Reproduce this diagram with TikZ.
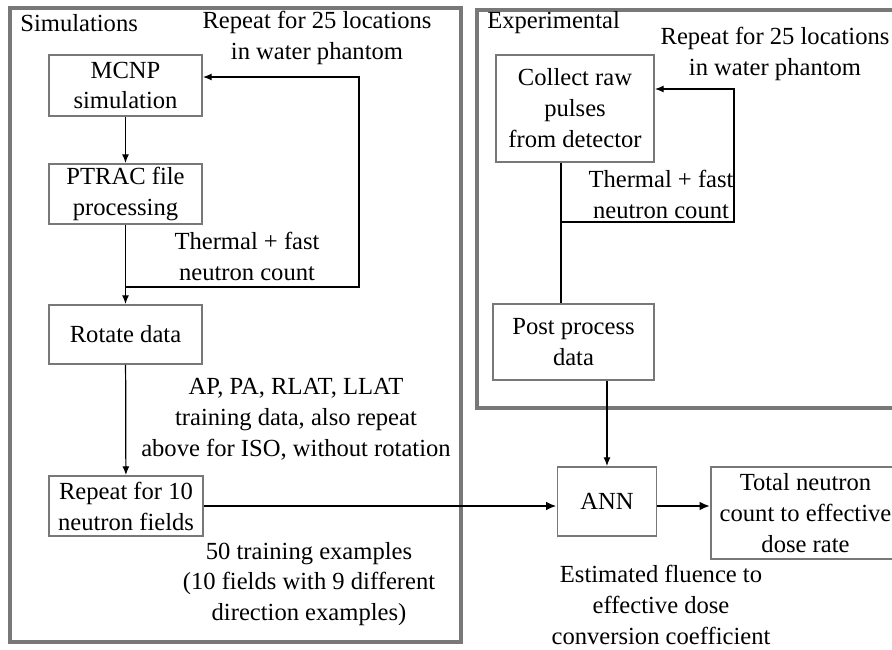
\documentclass[tikz,border=0pt]{standalone}
\usepackage{fontspec}
\setmainfont{Liberation Serif}
\usepackage{tikz}
\usetikzlibrary{arrows.meta}
\definecolor{framegray}{RGB}{120,120,120}

\begin{document}
\begin{tikzpicture}[
          x=0.02cm, y=-0.02cm,
          font=\fontsize{14}{17.6}\selectfont,
          box/.style={draw=framegray, line width=1.1pt, inner sep=0pt, align=center},
          frame/.style={draw=framegray, line width=2.2pt},
          lbl/.style={inner sep=0pt, align=center},
          arr/.style={-{Latex[length=5pt,width=4pt]}, line width=0.7pt},
          bigarr/.style={-{Latex[length=6pt,width=5pt]}, line width=1.2pt},
        ]
          \useasboundingbox (0,0) rectangle (892,649);
          % frames
          \draw[frame] (10,8) rectangle (461,642);
          \draw[frame] (477,10) rectangle (910,408);
          \node[lbl, anchor=west] (simtitle) at (20,23) {Simulations};
          \node[lbl, anchor=west] (exptitle) at (487,23) {Experimental};
          % simulation side
          \node[box, minimum width=3.06cm, minimum height=1.22cm] (mcnp) at (125.5,85.5) {MCNP\\simulation};
          \node[box, minimum width=3.06cm, minimum height=1.2cm] (ptrac) at (125.5,194) {PTRAC file\\processing};
          \node[box, minimum width=3.06cm, minimum height=1.18cm] (rotate) at (125.5,334.5) {Rotate data};
          \node[box, minimum width=3.08cm, minimum height=1.2cm] (repeat) at (126,506) {Repeat for 10\\neutron fields};
          \node[lbl] (simrep) at (317,38) {Repeat for 25 locations\\in water phantom};
          \node[lbl] (simcount) at (247,256.5) {Thermal + fast\\neutron count};
          \node[lbl] (augtext) at (296,419) {AP, PA, RLAT, LLAT\\training data, also repeat\\above for ISO, without rotation};
          \node[lbl] (trainex) at (309,584) {50 training examples\\(10 fields with 9 different\\direction examples)};
          % experimental side
          \node[box, minimum width=3.16cm, minimum height=2.14cm] (collect) at (575,108.5) {Collect raw\\pulses\\from detector};
          \node[box, minimum width=3.22cm, minimum height=1.52cm] (post) at (573.5,342) {Post process\\data};
          \node[lbl] (exprep) at (775,54) {Repeat for 25 locations\\in water phantom};
          \node[lbl] (expcount) at (661,194.5) {Thermal + fast\\neutron count};
          % network
          \node[box, minimum width=1.98cm, minimum height=1.38cm] (ann) at (607,501.5) {ANN};
          \node[box, minimum width=3.78cm, minimum height=1.84cm] (total) at (805.5,513) {Total neutron\\count to effective\\dose rate};
          \node[lbl] (est) at (661,605) {Estimated fluence to\\effective dose\\conversion coefficient};
          % connectors
          \coordinate (simloop) at (359,287);
          \coordinate (simtop) at (359,77);
          \coordinate (expjoin) at (561,222);
          \coordinate (exploop) at (734,222);
          \coordinate (exptop) at (734,89);
          \draw[arr] (mcnp) -- (ptrac);
          \draw[arr] (ptrac) -- (rotate);
          \draw[arr] (ptrac.south |- simloop) -- (simloop) -- (simtop) -- (mcnp.east |- simtop);
          \draw[arr] (rotate) -- (repeat);
          \draw[bigarr] (repeat.east) -- (repeat.east -| ann.west);
          \draw[bigarr] (ann.east |- repeat.east) -- (total.west |- repeat.east);
          \draw[line width=0.7pt] (collect.south -| expjoin) -- (post.north -| expjoin);
          \draw[arr] (expjoin) -- (exploop) -- (exptop) -- (collect.east |- exptop);
          \draw[arr] (post.south -| ann.north) -- (ann.north);
        \end{tikzpicture}
\end{document}
